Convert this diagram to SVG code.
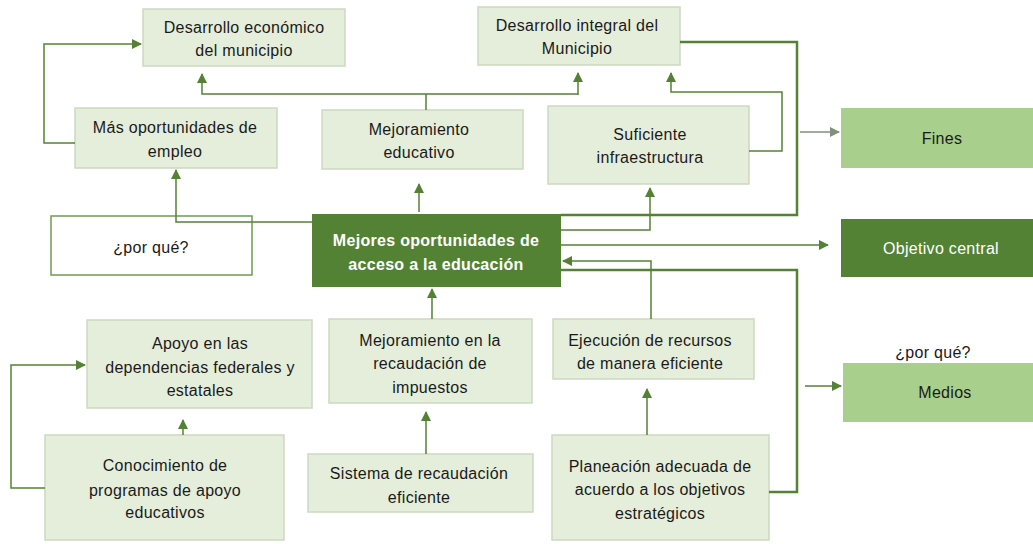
<svg xmlns="http://www.w3.org/2000/svg" width="1033" height="544" viewBox="0 0 1033 544">
<defs>
<marker id="ah" markerWidth="10" markerHeight="10" refX="9" refY="5" orient="auto" markerUnits="userSpaceOnUse"><path d="M0,0 L10,5 L0,10 Z" fill="#548235"/></marker>
<marker id="ahg" markerWidth="10" markerHeight="10" refX="9" refY="5" orient="auto" markerUnits="userSpaceOnUse"><path d="M0,0 L10,5 L0,10 Z" fill="#7f917a"/></marker>
</defs>
<style>
.box{fill:#e5eedb;stroke:#cdd9c2;stroke-width:1.5}
.mid{fill:#a8d08c;stroke:none}
.dark{fill:#548235;stroke:none}
.wbox{fill:#ffffff;stroke:#6e9a55;stroke-width:1.5}
text{font-family:"Liberation Sans",Arial,sans-serif;font-size:16px;fill:#1a1a1a;text-anchor:middle;dominant-baseline:central;letter-spacing:0.3px}
.wt{fill:#ffffff;font-weight:bold}
.wn{fill:#ffffff}
.c{fill:none;stroke:#548235;stroke-width:1.5}
.ct{fill:none;stroke:#548235;stroke-width:2.5}
.cg{fill:none;stroke:#7f917a;stroke-width:1.5}
</style>
<rect width="1033" height="544" fill="#ffffff"/>
<g id="n_des_econ"><rect class="box" x="143" y="9" width="202" height="57"/><text x="244" y="27">Desarrollo económico</text><text x="244" y="50">del municipio</text></g>
<g id="n_des_integral"><rect class="box" x="478" y="7" width="202" height="58"/><text x="577" y="25">Desarrollo integral del</text><text x="577" y="48">Municipio</text></g>
<g id="n_empleo"><rect class="box" x="75" y="108" width="202" height="60"/><text x="175" y="127">Más oportunidades de</text><text x="175" y="151">empleo</text></g>
<g id="n_mej_edu"><rect class="box" x="322" y="110" width="201" height="59"/><text x="419" y="129">Mejoramiento</text><text x="419" y="152">educativo</text></g>
<g id="n_infra"><rect class="box" x="548" y="106" width="201" height="78"/><text x="650" y="134">Suficiente</text><text x="650" y="157">infraestructura</text></g>
<g id="n_fines"><rect class="mid" x="841" y="108" width="192" height="60"/><text x="942" y="138">Fines</text></g>
<g id="n_porque1"><rect class="wbox" x="51" y="216" width="201" height="59"/><text x="151" y="247">¿por qué?</text></g>
<g id="n_central"><rect class="dark" x="312" y="214" width="249" height="73"/><text class="wt" x="436" y="240">Mejores oportunidades de</text><text class="wt" x="436" y="264">acceso a la educación</text></g>
<g id="n_objetivo"><rect class="dark" x="841" y="219" width="192" height="58"/><text class="wn" x="941" y="248">Objetivo central</text></g>
<g id="n_porque2"><text x="933" y="352">¿por qué?</text></g>
<g id="n_medios"><rect class="mid" x="843" y="363" width="190" height="59"/><text x="945" y="392">Medios</text></g>
<g id="n_apoyo"><rect class="box" x="87" y="320" width="225" height="88"/><text x="200" y="343">Apoyo en las</text><text x="200" y="367">dependencias federales y</text><text x="200" y="390">estatales</text></g>
<g id="n_conoc"><rect class="box" x="45" y="435" width="239" height="105"/><text x="165" y="465">Conocimiento de</text><text x="165" y="490">programas de apoyo</text><text x="165" y="512">educativos</text></g>
<g id="n_recaud"><rect class="box" x="329" y="319" width="203" height="84"/><text x="430" y="340">Mejoramiento en la</text><text x="430" y="363">recaudación de</text><text x="430" y="387">impuestos</text></g>
<g id="n_sistema"><rect class="box" x="308" y="454" width="225" height="58"/><text x="419" y="473">Sistema de recaudación</text><text x="419" y="497">eficiente</text></g>
<g id="n_ejec"><rect class="box" x="553" y="319" width="201" height="60"/><text x="650" y="340">Ejecución de recursos</text><text x="650" y="363">de manera eficiente</text></g>
<g id="n_plan"><rect class="box" x="552" y="435" width="217" height="105"/><text x="660" y="466">Planeación adecuada de</text><text x="660" y="489">acuerdo a los objetivos</text><text x="660" y="513">estratégicos</text></g>
<g id="connectors">
<path class="c" d="M75,143 H44 V44 H141" marker-end="url(#ah)"/>
<path class="c" d="M312,222 H176 V170" marker-end="url(#ah)"/>
<path class="c" d="M426,110 V94"/>
<path class="c" d="M578,94 H202 V74" marker-end="url(#ah)"/>
<path class="c" d="M578,95 V73" marker-end="url(#ah)"/>
<path class="c" d="M419,212 V184" marker-end="url(#ah)"/>
<path class="c" d="M749,151 H782 V92 H671 V73" marker-end="url(#ah)"/>
<path class="ct" d="M680,42 H797 V215 H561"/>
<path class="cg" d="M800,132 H839" marker-end="url(#ahg)"/>
<path class="c" d="M561,230 H650 V188" marker-end="url(#ah)"/>
<path class="c" d="M561,245 H828" marker-end="url(#ah)"/>
<path class="c" d="M651,319 V261 H563" marker-end="url(#ah)"/>
<path class="ct" d="M561,270 H797 V492 H769"/>
<path class="c" d="M805,386 H841" marker-end="url(#ah)"/>
<path class="c" d="M647,435 V389" marker-end="url(#ah)"/>
<path class="c" d="M432,319 V289" marker-end="url(#ah)"/>
<path class="c" d="M426,454 V412" marker-end="url(#ah)"/>
<path class="c" d="M183,435 V420" marker-end="url(#ah)"/>
<path class="c" d="M45,488 H11 V365 H85" marker-end="url(#ah)"/>
</g>
</svg>
